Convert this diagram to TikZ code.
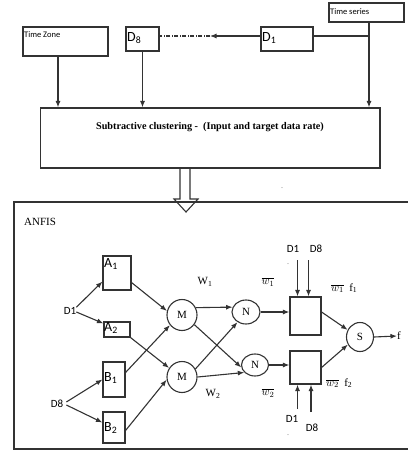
\documentclass[tikz,border=0pt]{standalone}
\usepackage{fontspec}
\setmainfont{Liberation Serif}
\newfontfamily\calib{Carlito}
\usetikzlibrary{arrows.meta,shapes.geometric}
\tikzset{
  ln/.style={line width=1.1pt, draw=black!80},
  arr/.style={ln, -{Latex[length=6.5pt,width=5pt]}},
  bx/.style={ln, draw, rectangle, inner sep=0pt},
  rnd/.style={ln, draw, ellipse, inner sep=0pt},
  sml/.style={font=\calib\fontsize{8.5}{9}\selectfont, inner sep=0pt},
  big/.style={font=\calib\fontsize{14}{14}\selectfont, inner sep=0pt},
  lab/.style={font=\calib\fontsize{11}{11}\selectfont, inner sep=0pt},
  ser/.style={font=\fontsize{11}{11}\selectfont, inner sep=0pt},
}
\begin{document}
\begin{tikzpicture}[x=1pt,y=-1pt]
\useasboundingbox (0,0) rectangle (407,455);
% ---------- top part ----------
\node[bx, minimum width=75pt, minimum height=19pt] (ts) at (366.5,12.5) {};
\node[sml, anchor=west] (tstxt) at (330,12) {Time series};
\node[bx, minimum width=85pt, minimum height=29pt] (tz) at (65.5,41.5) {};
\node[sml, anchor=west] (tztxt) at (24,35) {Time Zone};
\node[bx, minimum width=33pt, minimum height=24pt] (d8) at (142.5,39) {};
\node[big, anchor=west] (d8txt) at (127,38) {D\textsubscript{8}};
\node[bx, minimum width=52pt, minimum height=24pt] (d1) at (287,39) {};
\node[big, anchor=west] (d1txt) at (262,38) {D\textsubscript{1}};
\node[bx, minimum width=339.5pt, minimum height=60pt] (sc) at (210.25,138) {};
\node[font=\bfseries\fontsize{10.2}{11}\selectfont, inner sep=0pt] (sctxt) at (210,127)
  {Subtractive clustering -\ \ (Input and target data rate)};
\node[font=\fontsize{6}{6}\selectfont, inner sep=0pt] (dotA) at (282,188) {.};

\coordinate (j) at (369,36);
\coordinate (a8) at (210,36);
\draw[ln] (d1.east |- j) -- (j);
\draw[arr] (j |- ts.south) -- (j |- sc.north);
\draw[arr] (d1.west |- j) -- (a8);
\draw[ln, dash pattern=on 4pt off 1.5pt on 1pt off 1.5pt] (a8) -- (d8.east |- a8);
\draw[arr] ([xshift=-7.5pt]tz.south) -- ([xshift=-7.5pt]tz.south |- sc.north);
\draw[arr] (d8.south) -- (d8.south |- sc.north);

% ---------- ANFIS frame ----------
\draw[ln] (408,202) -- (14,202) -- (14,449) -- (408,449);
\node[font=\fontsize{11}{11}\selectfont, inner sep=0pt, anchor=west] (anf) at (24,222) {ANFIS};
% hollow arrow
\draw[ln] (180,168) -- (180,199) -- (174,199) -- (186,212) -- (198,199) -- (190,199) -- (190,168);

% layer 1
\node[bx, minimum width=28pt, minimum height=34pt] (a1) at (117,273) {};
\node[big, anchor=west] (a1t) at (104,264) {A\textsubscript{1}};
\node[bx, minimum width=26pt, minimum height=15pt] (a2) at (117,329.5) {};
\node[big, anchor=west] (a2t) at (104,328) {A\textsubscript{2}};
\node[bx, minimum width=22pt, minimum height=35pt] (b1) at (114,379.5) {};
\node[big, anchor=west] (b1t) at (104,378) {B\textsubscript{1}};
\node[bx, minimum width=22pt, minimum height=31pt] (b2) at (114,427.5) {};
\node[big, anchor=west] (b2t) at (104,428) {B\textsubscript{2}};

\node[lab] (in1) at (70,311) {D1};
\node[lab] (in8) at (57,404) {D8};

\draw[arr] (in1.north east) -- ([yshift=9pt]a1.south west);
\draw[arr] ([yshift=-1pt]in1.east) -- ([yshift=-2pt]a2.north west);
\draw[arr] ([xshift=3pt,yshift=2pt]in8.east) -- (b1.west);
\draw[arr] ([xshift=3pt,yshift=-1pt]in8.east) -- ([yshift=5pt]b2.west);

% layer 2
\node[rnd, minimum width=30pt, minimum height=31pt, ser, inner sep=0pt] (m1) at (182,315) {M};
\node[rnd, minimum width=30pt, minimum height=31pt, ser, inner sep=0pt] (m2) at (182,377) {M};
\draw[arr] ([yshift=8pt]a1.south east) -- (m1.165);
\draw[arr] (a2.south east) -- (m2.145);
\draw[arr] ([yshift=7pt]b1.east) -- (m1.220);
\draw[arr] ([yshift=-3pt]b2.east) -- (m2.190);

% layer 3
\node[rnd, minimum width=28pt, minimum height=24pt, ser] (n1) at (246,312) {N};
\node[rnd, minimum width=27pt, minimum height=22pt, ser] (n2) at (255,365) {N};
\draw[arr] (m1.28) -- (n1.160);
\draw[arr] (m1.-38) -- (n2.190);
\draw[arr] (m2.31) -- (n1.230);
\draw[arr] (m2.east) -- (n2.215);
\node[ser] (w1) at (205,282) {W\textsubscript{1}};
\node[ser] (w2) at (213,394) {W\textsubscript{2}};

% layer 4
\node[bx, minimum width=31pt, minimum height=38pt] (p1) at (305.5,316) {};
\node[bx, minimum width=31pt, minimum height=33pt] (p2) at (305.5,367.5) {};
\draw[arr] (n1.east) -- (n1.east -| p1.west);
\draw[arr] (n2.east) -- (n2.east -| p2.west);
\node[ser] (wb1) at (268,282) {$\overline{w_1}$};
\node[ser] (wb2) at (268,393) {$\overline{w_2}$};

\node[lab] (t1) at (293,249) {D1};
\node[lab] (t8) at (316,249) {D8};
\node[font=\fontsize{6}{6}\selectfont, inner sep=0pt] (dotB) at (288,264) {.};
\coordinate (t1e) at (297.5,260);
\coordinate (t8e) at (308.5,260);
\draw[arr] (t1e) -- (t1e |- p1.north);
\draw[arr] (t8e) -- (t8e |- p1.north);

\node[lab] (u1) at (292,419) {D1};
\node[lab] (u8) at (312,428) {D8};
\node[font=\fontsize{6}{6}\selectfont, inner sep=0pt] (dotC) at (288,435) {.};
\coordinate (u1e) at (297.5,409);
\coordinate (u8e) at (311,412);
\draw[arr] (u1e) -- (u1e |- p2.south);
\draw[arr] (u8e) -- (u8e |- p2.south);

% layer 5
\node[rnd, minimum width=27pt, minimum height=29pt, ser] (s) at (360,337) {S};
\draw[arr] ([yshift=4pt]p1.east) -- (s.150);
\draw[arr] (p2.east) -- (s.212);
\node[ser, anchor=west] (f) at (397,336) {f};
\draw[arr] (s.east) -- (f.west);
\node[ser, anchor=west] (wf1) at (331,288) {$\overline{w_1}$\ \ f\textsubscript{1}};
\node[ser, anchor=west] (wf2) at (326,383) {$\overline{w_2}$\ \ f\textsubscript{2}};
\end{tikzpicture}
\end{document}
